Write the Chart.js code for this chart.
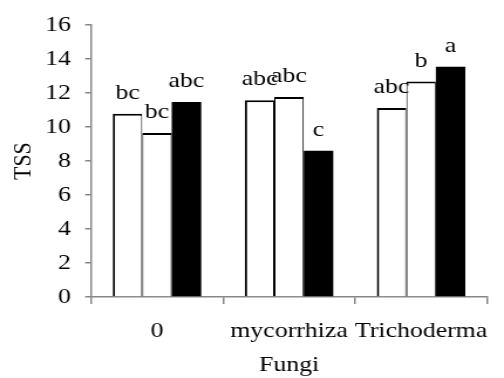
<!DOCTYPE html>
<html>
<head>
<meta charset="utf-8">
<script src="https://cdn.jsdelivr.net/npm/chart.js@4"></script>
<style>
  html, body { margin: 0; padding: 0; background: #ffffff; overflow: hidden; }
  #wrap { width: 504px; height: 378px; overflow: hidden; }
  #c { transform: scaleX(1.1721); transform-origin: 0 0; }
</style>
</head>
<body>
<div id="wrap"><canvas id="c" width="430" height="378"></canvas></div>
<script>
const categories = ['0', 'mycorrhiza', 'Trichoderma'];
const series1 = [10.78, 11.58, 11.13];
const series2 = [9.66, 11.77, 12.68];
const series3 = [11.48, 8.61, 13.55];
const letters1 = ['bc', 'abc', 'abc'];
const letters2 = ['bc', 'abc', 'b'];
const letters3 = ['abc', 'c', 'a'];
const yTicks = [0, 2, 4, 6, 8, 10, 12, 14, 16];

const FONT = "'Liberation Serif', 'Times New Roman', serif";
const FSIZE = 22;
const AXIS = '#878787';

const lettersPlugin = {
  id: 'letters',
  afterDatasetsDraw(chart) {
    const ctx = chart.ctx;
    const sets = [letters1, letters2, letters3];
    ctx.save();
    ctx.font = FSIZE + 'px ' + FONT;
    ctx.fillStyle = '#000000';
    ctx.textAlign = 'center';
    ctx.textBaseline = 'alphabetic';
    sets.forEach((labels, i) => {
      const meta = chart.getDatasetMeta(i);
      meta.data.forEach((bar, j) => {
        ctx.fillText(labels[j], bar.x, bar.y - 15);
      });
    });
    ctx.restore();
  }
};

new Chart(document.getElementById('c'), {
  type: 'bar',
  data: {
    labels: categories,
    datasets: [
      { data: series1, backgroundColor: '#ffffff', borderColor: '#000000',
        borderWidth: { top: 2, left: 2, right: 1, bottom: 0 }, borderSkipped: 'start' },
      { data: series2, backgroundColor: '#ffffff', borderColor: '#000000',
        borderWidth: { top: 2, left: 1, right: 1, bottom: 0 }, borderSkipped: 'start' },
      { data: series3, backgroundColor: '#000000', borderColor: '#000000',
        borderWidth: 0 }
    ]
  },
  options: {
    responsive: false,
    animation: false,
    devicePixelRatio: 1,
    categoryPercentage: 0.67,
    barPercentage: 1.0,
    layout: { padding: { top: 22, right: 2, bottom: 0, left: 0 } },
    plugins: { legend: { display: false }, tooltip: { enabled: false } },
    scales: {
      x: {
        grid: { display: true, drawOnChartArea: false, offset: true, color: AXIS, lineWidth: 1.5, tickLength: 7 },
        border: { display: true, color: AXIS, width: 1.5 },
        ticks: { color: '#000000', font: { family: FONT, size: FSIZE }, padding: 14, maxRotation: 0, autoSkip: false },
        title: { display: true, text: 'Fungi', color: '#000000', font: { family: FONT, size: FSIZE }, padding: { top: 0, bottom: 0 } },
        afterFit(scale) { scale.height = 81; }
      },
      y: {
        min: 0, max: 16,
        afterBuildTicks(scale) { scale.ticks = yTicks.map(v => ({ value: v })); },
        grid: { display: true, drawOnChartArea: false, color: AXIS, lineWidth: 1.5, tickLength: 5 },
        border: { display: true, color: AXIS, width: 1.5 },
        ticks: { color: '#000000', font: { family: FONT, size: FSIZE }, padding: 12 },
        title: { display: true, text: 'TSS', color: '#000000', font: { family: FONT, size: FSIZE }, padding: { top: 7, bottom: 0 } },
        afterFit(scale) { scale.width = 77.6; }
      }
    }
  },
  plugins: [lettersPlugin]
});
</script>
</body>
</html>
